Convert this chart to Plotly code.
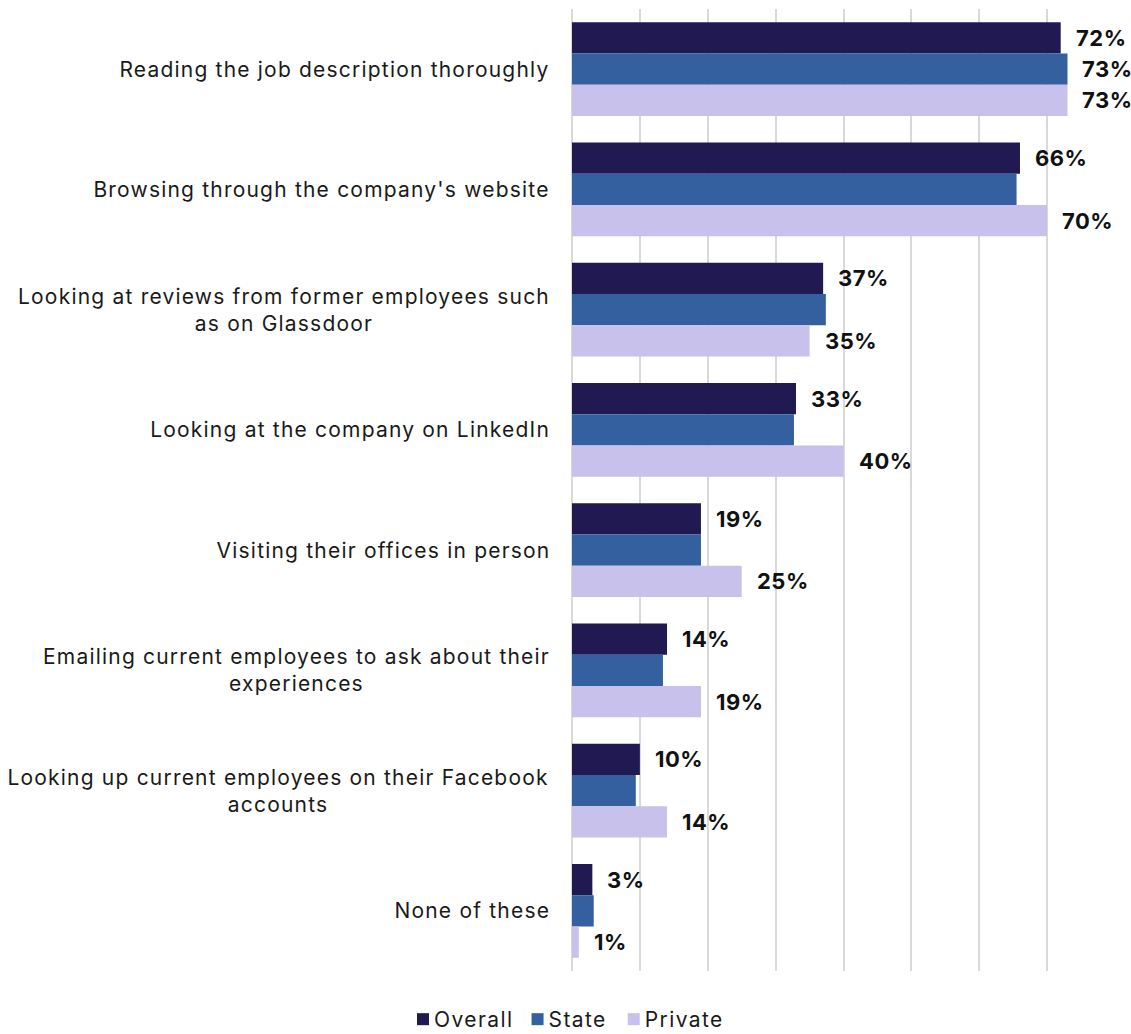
import plotly.graph_objects as go

categories = [
    "Reading the job description thoroughly",
    "Browsing through the company's website",
    "Looking at reviews from former employees such<br>as on Glassdoor",
    "Looking at the company on LinkedIn",
    "Visiting their offices in person",
    "Emailing current employees to ask about their<br>experiences",
    "Looking up current employees on their Facebook<br>accounts",
    "None of these",
]

overall = [72, 66, 37, 33, 19, 14, 10, 3]
state = [73, 65.5, 37.4, 32.7, 19.0, 13.4, 9.4, 3.2]
private = [73, 70, 35, 40, 25, 19, 14, 1]

# which bars carry a value label
overall_labelled = [True] * 8
state_labelled = [True, False, False, False, False, False, False, False]
private_labelled = [True] * 8

series = [
    ("Overall", overall, overall_labelled, "#211951"),
    ("State", state, state_labelled, "#35609F"),
    ("Private", private, private_labelled, "#C7C1EB"),
]

FONT = "Inter, 'Liberation Sans', Arial, sans-serif"
CAT_TRACKING = 1.2     # px of letter spacing on category labels
VALUE_TRACKING = 0.5   # px on value labels
LEGEND_TRACKING = 1.4  # px on legend entries

fig = go.Figure()
for name, values, labelled, color in series:
    fig.add_trace(go.Bar(
        name=name,
        y=categories,
        x=values,
        orientation="h",
        marker=dict(color=color, line=dict(width=0)),
        textposition="none",
        hoverinfo="x+name",
    ))

annotations = []

# category labels, right-aligned to the axis; wrapped labels have centred lines
for j, cat in enumerate(categories):
    lines = cat.split("<br>")
    multi = len(lines) > 1
    longest = max(len(s) for s in lines)
    # centred text grows both ways once tracked, so pull it back by half the growth
    shift = -20 - (longest * CAT_TRACKING / 2 if multi else 0)
    annotations.append(dict(
        x=0, y=j, xref="paper", yref="y",
        text=cat, showarrow=False, align="center" if multi else "right",
        xanchor="right", yanchor="middle", xshift=shift,
        font=dict(family=FONT, size=21, color="#1a1a1a"),
    ))
n_cat_ann = len(annotations)

# value labels just past the end of each bar, centred on that bar
n_series = len(series)
bargap = 0.22
bar_w = (1 - bargap) / n_series
for i, (name, values, labelled, color) in enumerate(series):
    offset = -(1 - bargap) / 2 + bar_w * (i + 0.5)
    for j, (v, show) in enumerate(zip(values, labelled)):
        if not show:
            continue
        annotations.append(dict(
            x=v, y=j + offset, xref="x", yref="y",
            text=f"<b>{v:.0f}%</b>", showarrow=False, align="left",
            xanchor="left", yanchor="middle", xshift=13,
            font=dict(family=FONT, size=22, color="#111111"),
        ))

fig.update_layout(
    width=1131, height=1034,
    margin=dict(l=572, r=16, t=9, b=63),
    paper_bgcolor="white", plot_bgcolor="white",
    barmode="group", bargap=bargap, bargroupgap=0,
    font=dict(family=FONT, size=20, color="#1a1a1a"),
    annotations=annotations,
    showlegend=True,
    legend=dict(
        orientation="h", xref="container", yref="container",
        x=0.5, xanchor="center", y=0.014, yanchor="middle",
        font=dict(family=FONT, size=21, color="#1a1a1a"),
        itemwidth=30, traceorder="normal",
    ),
    xaxis=dict(
        range=[0, 80], dtick=10, showticklabels=False,
        showgrid=True, gridcolor="#d9d9d9", gridwidth=2,
        zeroline=True, zerolinecolor="#d9d9d9", zerolinewidth=2,
        fixedrange=True,
    ),
    yaxis=dict(
        autorange="reversed", showticklabels=False, showgrid=False,
        zeroline=False, fixedrange=True,
    ),
)

# letter spacing for the loosely tracked typeface; legend text sits close to its swatch
cat_sel = ", ".join(
    f'.annotation[data-index="{k}"] .annotation-text' for k in range(n_cat_ann)
)
val_sel = ", ".join(
    f'.annotation[data-index="{k}"] .annotation-text'
    for k in range(n_cat_ann, len(annotations))
)
css = (
    cat_sel + " { letter-spacing: %.1fpx; } " % CAT_TRACKING
    + val_sel + " { letter-spacing: %.1fpx; } " % VALUE_TRACKING
    + ".legendtext { letter-spacing: %.1fpx; transform: translateX(-9px); } " % LEGEND_TRACKING
    + ".legend * { clip-path: none; }"
)
post_script = (
    "var st = document.createElement('style');"
    "st.textContent = " + repr(css).replace("\\'", "'") + ";"
    "document.head.appendChild(st);"
)

fig.write_html("out.html", post_script=post_script)
